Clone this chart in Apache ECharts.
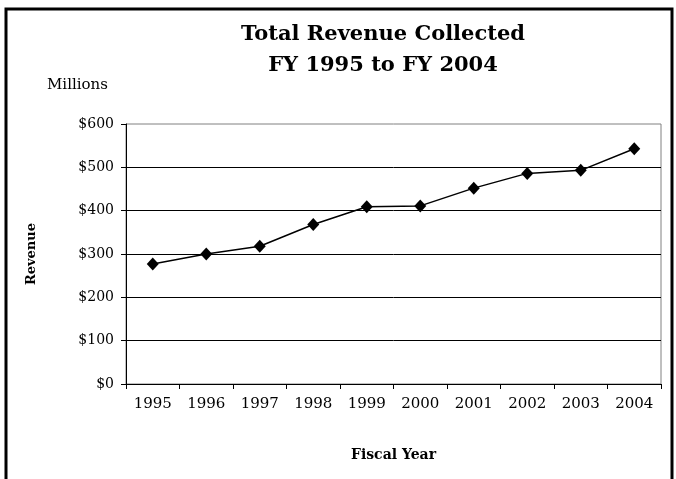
<!DOCTYPE html>
<html>
<head>
<meta charset="utf-8">
<script src="https://cdn.jsdelivr.net/npm/echarts@6/dist/echarts.min.js"></script>
<style>
  html, body { margin: 0; padding: 0; background: #fff; }
  #chart { width: 676px; height: 479px; }
</style>
</head>
<body>
<div id="chart"></div>
<script>
const years = ['1995', '1996', '1997', '1998', '1999', '2000', '2001', '2002', '2003', '2004']
const revenue = [277, 300, 318, 368, 409, 411, 452, 486, 493, 543]
const FONT = 'DejaVu Serif'

const chart = echarts.init(document.getElementById('chart'))
const option = {
  backgroundColor: '#fff',
  animation: false,
  title: {
    text: 'Total Revenue Collected\nFY 1995 to FY 2004',
    left: 378,
    top: 14,
    textAlign: 'center',
    textStyle: {
      fontFamily: FONT,
      fontSize: 21,
      fontWeight: 'bold',
      color: '#000',
      lineHeight: 31
    }
  },
  graphic: [
    {
      type: 'rect',
      shape: { x: 6, y: 9, width: 666, height: 520 },
      style: { fill: 'none', stroke: '#000', lineWidth: 3 }
    },
    {
      type: 'text',
      left: 47,
      top: 78,
      style: { text: 'Millions', font: '15px "DejaVu Serif"', fill: '#000' }
    }
  ],
  grid: {
    left: 126,
    right: 15,
    top: 124,
    bottom: 95,
    show: true,
    borderColor: '#808080',
    borderWidth: 1
  },
  xAxis: {
    type: 'category',
    data: years,
    boundaryGap: true,
    name: 'Fiscal Year',
    nameLocation: 'middle',
    nameGap: 64,
    nameTextStyle: { fontFamily: FONT, fontSize: 14, fontWeight: 'bold', color: '#000' },
    axisLine: { lineStyle: { color: '#000', width: 1 } },
    axisTick: { show: true, length: 5, alignWithLabel: false, lineStyle: { color: '#000' } },
    axisLabel: { fontFamily: FONT, fontSize: 15, color: '#000', margin: 13 },
    splitLine: { show: false }
  },
  yAxis: {
    type: 'value',
    min: 0,
    max: 600,
    interval: 100,
    name: 'Revenue',
    nameLocation: 'middle',
    nameRotate: 90,
    nameGap: 88,
    nameTextStyle: { fontFamily: FONT, fontSize: 13, fontWeight: 'bold', color: '#000' },
    axisLine: { show: true, lineStyle: { color: '#000', width: 1 } },
    axisTick: { show: true, length: 5, lineStyle: { color: '#000' } },
    axisLabel: {
      fontFamily: FONT,
      fontSize: 14,
      color: '#000',
      margin: 12,
      formatter: v => '$' + v
    },
    splitLine: { show: true, showMaxLine: false, lineStyle: { color: '#000', width: 1 } }
  },
  series: [
    {
      type: 'line',
      data: revenue,
      symbol: 'diamond',
      symbolSize: [12, 13],
      lineStyle: { color: '#000', width: 1.5 },
      itemStyle: { color: '#000' }
    }
  ]
}
chart.setOption(option)
</script>
</body>
</html>
